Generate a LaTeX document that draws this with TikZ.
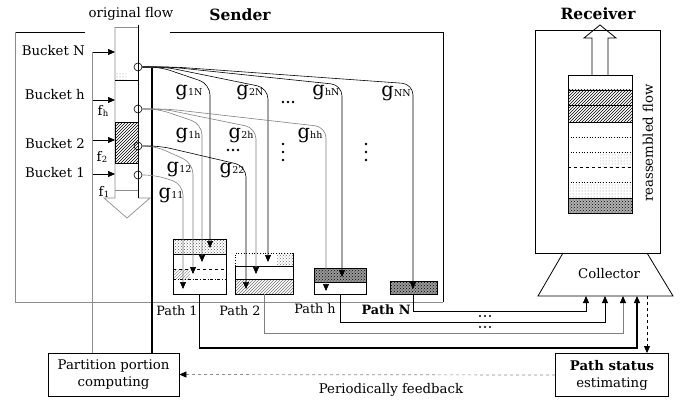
\documentclass[tikz,border=0pt]{standalone}
\usepackage{fontspec}
\setmainfont{DejaVu Serif}
\usetikzlibrary{arrows.meta,patterns}
\newcommand{\gsub}[1]{{\fontsize{19.5}{19.5}\selectfont g}\kern0.2pt\raisebox{-0.6pt}{\fontsize{9.5}{9.5}\selectfont #1}}
\newcommand{\fsub}[1]{f\kern0.2pt\raisebox{-1.5pt}{\fontsize{8.5}{8.5}\selectfont #1}}
\begin{document}
\begin{tikzpicture}[x=1pt,y=-1pt,
  lbl/.style={font=\fontsize{13.3}{13.3}\selectfont, inner sep=0pt},
  plbl/.style={font=\fontsize{12.8}{12.8}\selectfont, inner sep=0pt},
  glbl/.style={inner sep=0pt},
  ttl/.style={font=\fontsize{15.5}{15.5}\selectfont\bfseries, inner sep=0pt},
  box/.style={draw, line width=0.8pt, align=center, inner sep=0pt, font=\fontsize{13.3}{17}\selectfont},
  tri/.style={-{Triangle[length=7pt,width=6pt,color=black]}},
  gline/.style={line width=0.6pt, rounded corners=11pt, -{Triangle[length=7pt,width=6pt,color=black]}},
  glinegray/.style={gline, draw=black!50},
  frame/.style={line width=0.8pt},
  grayln/.style={draw=black!45, line width=0.7pt},
  splitc/.style={circle, draw, line width=0.6pt, minimum size=8pt, inner sep=0pt},
  pathout/.style={line width=1pt, -{Triangle[length=7pt,width=6pt,color=black]}},
  bufnode/.style={inner sep=0pt, outer sep=0pt},
]
\useasboundingbox (0,0) rectangle (684,401);

% ---------- titles ----------
\node[ttl] (snd) at (240,15) {Sender};
\node[ttl] (rcv) at (598,14) {Receiver};
\node[lbl] (of) at (131,14) {original flow};

% ---------- sender frame ----------
\draw[frame] (85,32) -- (15,32);
\draw[grayln] (15,32) -- (15,302) -- (443,302);
\draw[frame] (170,32) -- (443,32) -- (443,302);

% ---------- original flow column ----------
\fill[pattern=dots, pattern color=black!50] (116,72) rectangle (126,80);
\fill[pattern=north east lines] (115,122) rectangle (138,163);
\draw[grayln] (115,27) -- (115,198) -- (104,198) -- (127,218) -- (150,198) -- (138,198);
\draw[grayln] (115,27) -- (138,27);
\draw[frame] (115,122) rectangle (138,163);
\draw[frame] (115,80) -- (138,80);
\draw[grayln] (115,190) -- (138,190);
\draw[line width=0.9pt] (138,25) -- (138,198);

% split circles
\node[splitc] (cN) at (138,67) {};
\node[splitc] (cH) at (138,109) {};
\node[splitc] (c2) at (138,146) {};
\node[splitc] (c1) at (138,175) {};

% bucket labels and arrows
\node[lbl, anchor=east] (bN) at (85,51) {Bucket N};
\node[lbl, anchor=east] (bH) at (85,95) {Bucket h};
\node[lbl, anchor=east] (b2) at (85,144) {Bucket 2};
\node[lbl, anchor=east] (b1) at (85,173) {Bucket 1};
\coordinate (aN) at (92,52);
\coordinate (aH) at (92,100);
\coordinate (a2) at (92,140);
\coordinate (a1) at (92,174);
\draw[tri, line width=0.7pt] (aN) -- (115,52);
\draw[tri, line width=0.7pt] (aH) -- (115,100);
\draw[tri, line width=0.7pt] (a2) -- (115,140);
\draw[tri, line width=0.7pt] (a1) -- (115,174);
\node[lbl] (fh) at (103,111) {\fsub{h}};
\node[lbl] (f2) at (102,157) {\fsub{2}};
\node[lbl] (f1) at (104,192) {\fsub{1}};

% ---------- partition / path status boxes ----------
\node[box, minimum width=131pt, minimum height=43pt] (part) at (113.5,374.5) {Partition portion\\computing};
\node[box, minimum width=113pt, minimum height=43pt] (pse) at (612,375) {\textbf{Path status}\\estimating};
\draw[grayln] (aN) -- (aN |- part.north);
\coordinate (ctl) at (152,68);
\draw[line width=1.1pt] (ctl) -- (ctl |- part.north);
\draw[dashed, draw=black!45, line width=0.7pt, -{Triangle[length=7pt,width=6pt,color=black]}] (pse.west) -- (part.east);
\node[lbl] (fb) at (391,390) {Periodically feedback};

% ---------- buffers ----------
% Path 1
\node[bufnode, minimum width=53pt, minimum height=55pt] (buf1) at (199.5,266.5) {};
\fill[pattern=crosshatch dots, pattern color=black!65] (173,239) rectangle (226,254);
\fill[pattern=north east lines, pattern color=black!40] (173,269) rectangle (190,279);
\draw[frame] (173,239) rectangle (226,294);
\draw[frame] (173,254) -- (226,254);
\draw[dashed] (173,269) -- (226,269);
\draw[dash dot] (173,279) -- (226,279);
% Path 2
\node[bufnode, minimum width=58pt, minimum height=41pt] (buf2) at (264,273.5) {};
\fill[pattern=crosshatch dots, pattern color=black!55] (277,253) rectangle (293,266);
\fill[pattern=north east lines, pattern color=black!55] (235,279) rectangle (293,294);
\draw[dotted, line width=0.7pt] (235,266) -- (235,253) -- (293,253);
\draw[frame] (293,253) -- (293,294) -- (235,294) -- (235,266);
\draw[frame] (235,266) -- (293,266);
\draw[frame] (235,279) -- (293,279);
% Path h
\node[bufnode, minimum width=52pt, minimum height=26pt] (bufh) at (340,281) {};
\fill[black!40] (314,268) rectangle (366,282);
\fill[pattern=crosshatch dots, pattern color=black] (314,268) rectangle (366,282);
\draw[frame] (314,268) rectangle (366,294);
\draw[frame] (314,282) -- (366,282);
% Path N
\node[bufnode, minimum width=47pt, minimum height=13pt] (bufN) at (413.5,287.5) {};
\fill[black!40] (390,281) rectangle (437,294);
\fill[pattern=crosshatch dots, pattern color=black] (390,281) rectangle (437,294);
\draw[frame] (390,281) rectangle (437,294);

% ---------- g lines ----------
\draw[gline] (cN.east) -- (160,67) -- (210,84) -- (210,248);
\draw[gline] (cN.east) -- (165,67) -- (268,88) -- (268,262);
\draw[gline] (cN.east) -- (170,67) -- (342,85) -- (342,277);
\draw[gline] (cN.east) -- (175,67) -- (413,84) -- (413,289);
\draw[glinegray] (cH.east) -- (158,109) -- (202,124) -- (202,262);
\draw[glinegray] (cH.east) -- (163,109) -- (256,128) -- (256,274);
\draw[glinegray] (cH.east) -- (168,109) -- (326,127) -- (326,291);
\draw[glinegray] (c2.east) -- (155,146) -- (193,163) -- (193,274);
\draw[gline] (c2.east) -- (160,146) -- (246,166) -- (246,289);
\draw[glinegray] (c1.east) -- (155,175) -- (183,184) -- (183,289);

% g labels
\node[glbl] (g1N) at (189,92) {\gsub{1N}};
\node[glbl] (g2N) at (250,92) {\gsub{2N}};
\node[glbl] (ghN) at (326,92) {\gsub{hN}};
\node[glbl] (gNN) at (396,93) {\gsub{NN}};
\node[glbl] (g1h) at (188,135) {\gsub{1h}};
\node[glbl] (g2h) at (241,135) {\gsub{2h}};
\node[glbl] (ghh) at (310,135) {\gsub{hh}};
\node[glbl] (g12) at (179,169) {\gsub{12}};
\node[glbl] (g22) at (232,170) {\gsub{22}};
\node[glbl] (g11) at (171,195) {\gsub{11}};

% dots
\foreach \dx in {-5,0,5} \fill (288+\dx,102) circle (1.4);
\foreach \dx in {-5,0,5} \fill (233+\dx,150) circle (1.4);
\foreach \dy in {-8,0,8} \fill (283,152+\dy) circle (1.4);
\foreach \dy in {-8,0,8} \fill (366,152+\dy) circle (1.4);
\foreach \dx in {-5,0,5} \fill (485+\dx,316) circle (1.2);
\foreach \dx in {-5,0,5} \fill (485+\dx,327) circle (1.2);

% path labels
\node[plbl] (lp1) at (177,311) {Path 1};
\node[plbl] (lp2) at (240,311) {Path 2};
\node[plbl] (lph) at (315,309) {Path h};
\node[plbl] (lpN) at (386,310) {\textbf{Path N}};

% ---------- receiver ----------
\node[draw, frame, minimum width=125pt, minimum height=223pt, inner sep=0pt] (recbox) at (597.5,141.5) {};
\draw[frame] (592,75) -- (592,38) -- (584,38) -- (600,25) -- (616,38) -- (608,38) -- (608,75);
% reassembled column
\fill[pattern=north east lines] (568,90) rectangle (632,122);
\fill[pattern=dots, pattern color=black!45] (600,152) rectangle (632,167);
\fill[pattern=dots, pattern color=black!45] (568,182) rectangle (632,198);
\fill[black!30] (568,198) rectangle (632,213);
\fill[pattern=crosshatch dots, pattern color=black] (568,198) rectangle (632,213);
\draw[frame] (568,75) rectangle (632,213);
\draw[frame] (568,90) -- (632,90);
\draw[frame] (568,105) -- (632,105);
\draw[frame] (568,122) -- (632,122);
\draw[dotted, line width=0.7pt] (568,137) -- (632,137);
\draw[dotted, line width=0.7pt] (568,152) -- (632,152);
\draw[dashed, line width=0.6pt] (568,167) -- (632,167);
\draw[dotted, line width=0.7pt] (568,182) -- (632,182);
\draw[frame] (568,198) -- (632,198);
\node[lbl, rotate=90] (rf) at (648,143) {reassembled flow};
% collector
\draw[frame] (563,253) -- (538,296) -- (673,296) -- (647,253);
\node[lbl] (col) at (609,274) {Collector};
\coordinate (inN) at (586,296);
\coordinate (inh) at (605,296);
\coordinate (in2) at (623,296);
\coordinate (in1) at (637,296);
\coordinate (outS) at (647,296);

% ---------- path outputs ----------
\draw[pathout] (bufN.south) |- (586,311) -- (inN);
\draw[pathout] (bufh.south) |- (605,322) -- (inh);
\draw[pathout, draw=black!50] (buf2.south) |- (623,333) -- (in2);
\draw[pathout, line width=1.2pt] (buf1.south) |- (637,348) -- (in1);
\draw[dashed, line width=0.7pt, -{Triangle[length=7pt,width=6pt]}] (outS) -- (outS |- pse.north);
\end{tikzpicture}
\end{document}
